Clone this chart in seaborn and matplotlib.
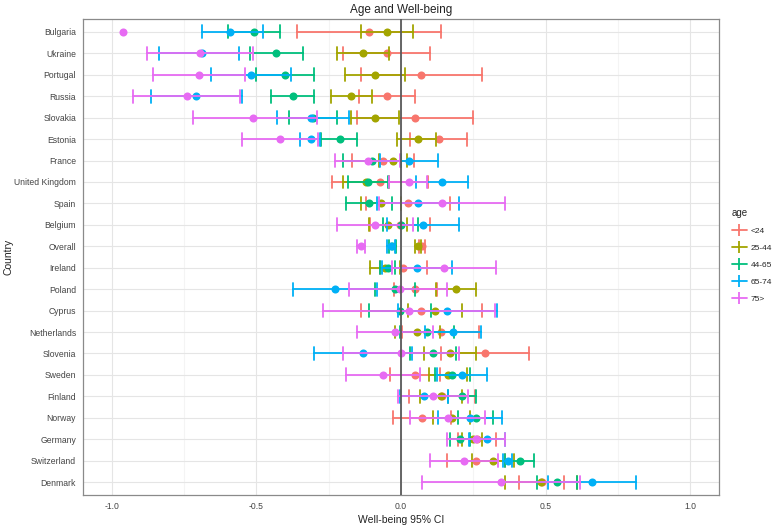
import numpy as np
import pandas as pd
import matplotlib
matplotlib.use("Agg")
import matplotlib.pyplot as plt
import seaborn as sns
from matplotlib.lines import Line2D

countries = ["Bulgaria", "Ukraine", "Portugal", "Russia", "Slovakia", "Estonia",
             "France", "United Kingdom", "Spain", "Belgium", "Overall", "Ireland",
             "Poland", "Cyprus", "Netherlands", "Slovenia", "Sweden", "Finland",
             "Norway", "Germany", "Switzerland", "Denmark"]
ages = ["<24", "25-44", "44-65", "65-74", "75>"]
colors = ["#F8766D", "#A3A500", "#00BF7D", "#00B0F6", "#E76BF3"]

nan = np.nan
# <24
mean_a1 = [-0.111, -0.048, 0.069, -0.048, 0.048, 0.131, -0.062, -0.073, 0.024, -0.003, 0.073,
           0.007, 0.048, 0.069, 0.138, 0.291, 0.048, 0.142, 0.073, 0.263, 0.260, 0.488]
lo_a1 = [-0.360, -0.201, -0.138, -0.145, -0.152, 0.031, -0.170, -0.239, -0.121, -0.107, 0.062,
         -0.073, -0.024, -0.138, 0.003, 0.138, -0.038, 0.028, -0.028, 0.197, 0.159, 0.408]
hi_a1 = [0.138, 0.100, 0.280, 0.048, 0.249, 0.228, 0.045, 0.093, 0.170, 0.100, 0.083,
         0.090, 0.125, 0.280, 0.270, 0.443, 0.135, 0.256, 0.173, 0.329, 0.360, 0.564]
# 25-44
mean_a2 = [-0.048, -0.131, -0.090, -0.173, -0.090, 0.059, -0.028, -0.121, -0.069, -0.045, 0.059,
           -0.055, 0.190, 0.118, 0.055, 0.170, 0.163, 0.138, 0.176, 0.249, 0.318, 0.484]
lo_a2 = [-0.138, -0.221, -0.194, -0.242, -0.173, -0.014, -0.076, -0.201, -0.138, -0.111, 0.048,
         -0.107, 0.121, 0.024, -0.021, 0.080, 0.097, 0.066, 0.111, 0.211, 0.246, 0.360]
hi_a2 = [0.042, -0.042, 0.014, -0.100, -0.007, 0.121, 0.021, -0.042, 0.000, 0.021, 0.069,
         -0.003, 0.260, 0.211, 0.135, 0.260, 0.228, 0.211, 0.239, 0.280, 0.391, 0.609]
# 44-65
mean_a3 = [-0.509, -0.433, -0.401, -0.374, -0.304, -0.211, -0.100, -0.114, -0.111, 0.000, -0.031,
           -0.045, -0.021, -0.003, 0.090, 0.111, 0.176, 0.211, 0.260, 0.204, 0.412, 0.540]
lo_a3 = [-0.599, -0.522, -0.502, -0.450, -0.388, -0.277, -0.201, -0.183, -0.190, -0.062, -0.042,
         -0.073, -0.090, -0.111, -0.003, 0.031, 0.118, 0.163, 0.197, 0.170, 0.360, 0.471]
hi_a3 = [-0.419, -0.339, -0.301, -0.301, -0.221, -0.152, 0.000, -0.045, -0.031, 0.059, -0.017,
         -0.021, 0.048, 0.104, 0.183, 0.190, 0.239, 0.260, 0.318, 0.239, 0.460, 0.609]
# 65-74
mean_a4 = [-0.592, -0.689, -0.519, -0.709, -0.311, -0.311, 0.028, 0.142, 0.059, 0.076, -0.035,
           0.055, -0.228, 0.159, 0.180, -0.131, 0.211, 0.080, 0.239, 0.298, 0.370, 0.661]
lo_a4 = [-0.689, -0.837, -0.657, -0.865, -0.429, -0.349, -0.073, 0.052, -0.083, -0.048, -0.048,
         -0.066, -0.374, -0.010, 0.083, -0.301, 0.125, -0.003, 0.128, 0.235, 0.353, 0.509]
hi_a4 = [-0.478, -0.561, -0.381, -0.550, -0.180, -0.280, 0.128, 0.232, 0.201, 0.201, -0.021,
         0.176, -0.083, 0.332, 0.277, 0.038, 0.298, 0.163, 0.349, 0.360, 0.384, 0.813]
# 75>
mean_a5 = [-0.962, -0.696, -0.699, -0.740, -0.512, -0.419, -0.114, 0.028, 0.142, -0.090, -0.138,
           0.149, -0.003, 0.028, -0.021, 0.000, -0.062, 0.111, 0.163, 0.260, 0.218, 0.346]
lo_a5 = [nan, -0.879, -0.858, -0.927, -0.720, -0.550, -0.228, -0.042, -0.076, -0.221, -0.152,
         -0.031, -0.180, -0.270, -0.152, -0.201, -0.190, -0.010, 0.031, 0.159, 0.100, 0.073]
hi_a5 = [nan, -0.512, -0.540, -0.557, -0.291, -0.287, -0.003, 0.090, 0.360, 0.042, -0.125,
         0.329, 0.159, 0.325, 0.111, 0.201, 0.066, 0.232, 0.291, 0.360, 0.336, 0.619]

means = [mean_a1, mean_a2, mean_a3, mean_a4, mean_a5]
los = [lo_a1, lo_a2, lo_a3, lo_a4, lo_a5]
his = [hi_a1, hi_a2, hi_a3, hi_a4, hi_a5]

rows = []
for age, m, lo, hi in zip(ages, means, los, his):
    for c, mv, lv, hv in zip(countries, m, lo, hi):
        for v in (lv, mv, hv):
            if not np.isnan(v):
                rows.append({"Country": c, "age": age, "value": v})
df = pd.DataFrame(rows)

sns.set_style("white")
plt.rcParams["font.family"] = ["Liberation Sans", "DejaVu Sans"]

fig = plt.figure(figsize=(7.78, 5.25), dpi=100)
ax = fig.add_axes([83 / 778, 30 / 525, 636 / 778, 476 / 525])

sns.pointplot(data=df, x="value", y="Country", hue="age", order=countries,
              hue_order=ages, palette=colors, estimator="median",
              errorbar=("pi", 100), capsize=0.6, dodge=False, orient="h",
              linestyle="none", markers="o", markersize=5.8, markeredgewidth=0,
              err_kws={"linewidth": 1.3}, legend=False, ax=ax)

# remove degenerate (single-value) error bars
for ln in list(ax.lines):
    x = np.asarray(ln.get_xdata(), float)
    xf = x[np.isfinite(x)]
    if len(x) > 2 and xf.size and np.ptp(xf) == 0:
        ln.remove()

ax.axvline(0, color="#5a5a5a", lw=1.3, zorder=6)

ax.set_xlim(-1.1, 1.1)
ax.set_ylim(len(countries) - 1 + 0.6, -0.6)
ax.set_xticks([-1.0, -0.5, 0.0, 0.5, 1.0])
ax.set_xticklabels(["-1.0", "-0.5", "0.0", "0.5", "1.0"])
ax.set_xticks([-0.75, -0.25, 0.25, 0.75], minor=True)
ax.grid(True, which="major", axis="both", color="#e5e5e5", lw=0.8, zorder=0)
ax.grid(True, which="minor", axis="x", color="#f4f4f4", lw=0.8, zorder=0)
ax.set_axisbelow(True)
for s in ax.spines.values():
    s.set_color("#8a8a8a")
    s.set_linewidth(0.9)
ax.tick_params(axis="both", which="major", length=3, width=0.8, color="#8a8a8a",
               labelsize=6.2, labelcolor="#444444", pad=2)
ax.tick_params(axis="x", which="minor", length=0)

ax.set_xlabel("Well-being 95% CI", fontsize=7.5, color="#222222", labelpad=3)
ax.set_ylabel("Country", fontsize=7.5, color="#222222")
ax.yaxis.set_label_coords((14 - 83) / 636, 0.5)
ax.set_title("Age and Well-being", fontsize=8.5, color="#222222", pad=4)

handles = [Line2D([0], [0], color=c, lw=1.3, marker="|", markersize=8,
                  markeredgewidth=1.3) for c in colors]
leg = fig.legend(handles, ages, title="age", loc="upper left",
                 bbox_to_anchor=(726 / 778, 1 - 202 / 525), frameon=False,
                 fontsize=6, title_fontsize=7, handlelength=1.8, labelspacing=1.1,
                 handletextpad=0.5, borderpad=0.2)
leg._legend_box.align = "left"

fig.savefig("out.png", dpi=100)
